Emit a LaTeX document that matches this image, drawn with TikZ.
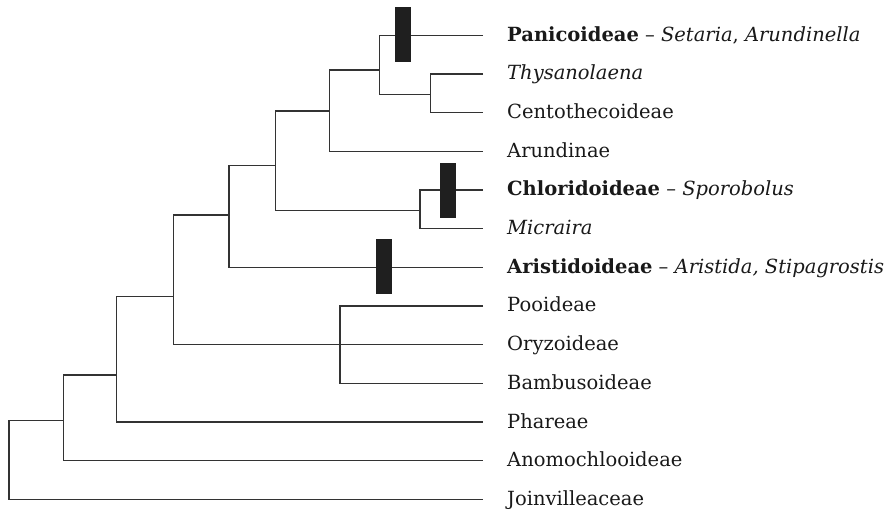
\documentclass[tikz,border=0pt]{standalone}
\usepackage{fontspec}
\setmainfont{DejaVu Serif}
\usetikzlibrary{positioning}
\begin{document}
\begin{tikzpicture}[x=1pt,y=-1pt,
  branch/.style={line width=1.1pt,draw=black!80},
  leaf/.style={anchor=west,inner sep=0pt,text height=14pt,text depth=2pt,
    font=\fontsize{19.5}{22}\selectfont,text=black!90},
  synapo/.style={rectangle,fill=black!88,draw=none,minimum width=16pt,minimum height=55pt,inner sep=0pt}]
\useasboundingbox (0,0) rectangle (893,510);
% leaf tips
\coordinate (tPan) at (483,35.3);
\coordinate (tThy) at (483,74.0);
\coordinate (tCen) at (483,112.6);
\coordinate (tAru) at (483,151.3);
\coordinate (tChl) at (483,190.0);
\coordinate (tMic) at (483,228.7);
\coordinate (tAri) at (483,267.3);
\coordinate (tPoo) at (483,306.0);
\coordinate (tOry) at (483,344.7);
\coordinate (tBam) at (483,383.3);
\coordinate (tPha) at (483,422.0);
\coordinate (tAno) at (483,460.7);
\coordinate (tJoi) at (483,499.3);
% internal nodes
\coordinate (n1) at (430.7,94.3);
\coordinate (n2) at (379.3,70);
\coordinate (n3) at (329.3,111);
\coordinate (n4) at (420,210.7);
\coordinate (n5) at (275.5,165.7);
\coordinate (n6) at (229,215);
\coordinate (n7) at (340,344.7);
\coordinate (n8) at (173.3,296.7);
\coordinate (n9) at (116.7,375);
\coordinate (n10) at (63.3,420.7);
\coordinate (root) at (9,460);
% labels
\node[leaf,right=24pt of tPan] (lPan) {\textbf{Panicoideae} – \textit{Setaria}, \textit{Arundinella}};
\node[leaf,right=24pt of tThy] (lThy) {\textit{Thysanolaena}};
\node[leaf,right=24pt of tCen] (lCen) {Centothecoideae};
\node[leaf,right=24pt of tAru] (lAru) {Arundinae};
\node[leaf,right=24pt of tChl] (lChl) {\textbf{Chloridoideae} – \textit{Sporobolus}};
\node[leaf,right=24pt of tMic] (lMic) {\textit{Micraira}};
\node[leaf,right=24pt of tAri] (lAri) {\textbf{Aristidoideae} – \textit{Aristida, Stipagrostis}};
\node[leaf,right=24pt of tPoo] (lPoo) {Pooideae};
\node[leaf,right=24pt of tOry] (lOry) {Oryzoideae};
\node[leaf,right=24pt of tBam] (lBam) {Bambusoideae};
\node[leaf,right=24pt of tPha] (lPha) {Phareae};
\node[leaf,right=24pt of tAno] (lAno) {Anomochlooideae};
\node[leaf,right=24pt of tJoi] (lJoi) {Joinvilleaceae};
% branches
\draw[branch] (tThy) -| (n1) |- (tCen);
\draw[branch] (tPan) -| (n2) |- (n1);
\draw[branch] (n2) -| (n3) |- (tAru);
\draw[branch] (tChl) -| (n4) |- (tMic);
\draw[branch] (n3) -| (n5) |- (n4);
\draw[branch] (n5) -| (n6) |- (tAri);
\draw[branch] (tPoo) -| (n7) |- (tBam);
\draw[branch] (n7) -- (tOry);
\draw[branch] (n6) -| (n8) |- (n7);
\draw[branch] (n8) -| (n9) |- (tPha);
\draw[branch] (n9) -| (n10) |- (tAno);
\draw[branch] (n10) -| (root) |- (tJoi);
% synapomorphy bars
\node[synapo] (bPan) at (403,35) {};
\node[synapo] (bChl) at (447.5,190.2) {};
\node[synapo] (bAri) at (383.7,266.8) {};
\end{tikzpicture}
\end{document}
